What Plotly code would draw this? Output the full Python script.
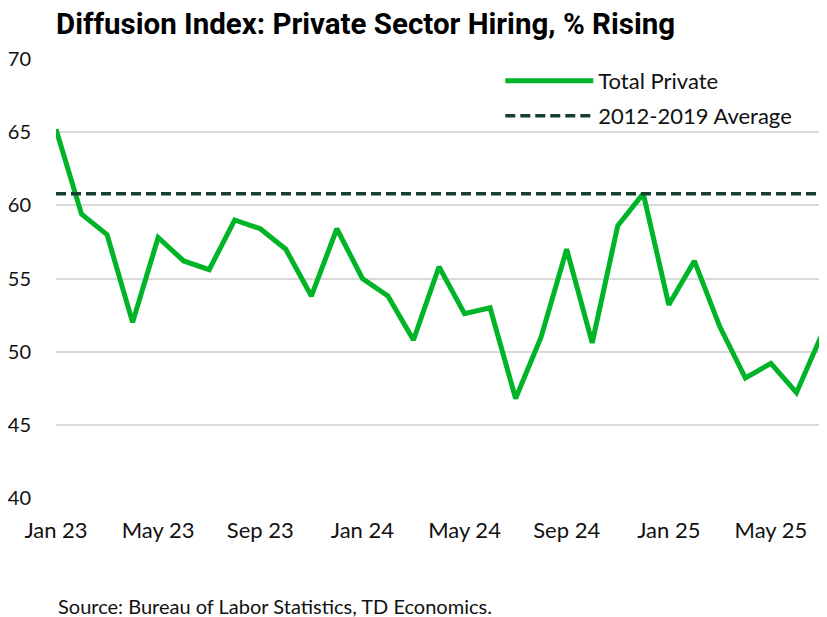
import plotly.graph_objects as go

months = ["Jan 23", "Feb 23", "Mar 23", "Apr 23", "May 23", "Jun 23", "Jul 23", "Aug 23",
          "Sep 23", "Oct 23", "Nov 23", "Dec 23", "Jan 24", "Feb 24", "Mar 24", "Apr 24",
          "May 24", "Jun 24", "Jul 24", "Aug 24", "Sep 24", "Oct 24", "Nov 24", "Dec 24",
          "Jan 25", "Feb 25", "Mar 25", "Apr 25", "May 25", "Jun 25", "Jul 25"]
total_private = [65.2, 59.4, 58.0, 52.0, 57.8, 56.2, 55.6, 59.0, 58.4, 57.0, 53.8, 58.4,
                 55.0, 53.8, 50.8, 55.8, 52.6, 53.0, 46.8, 51.0, 57.0, 50.6, 58.6, 60.8,
                 53.2, 56.2, 51.7, 48.2, 49.2, 47.2, 51.2]
avg_2012_2019 = 60.8
tick_labels = ["Jan 23", "May 23", "Sep 23", "Jan 24", "May 24", "Sep 24", "Jan 25", "May 25"]
y_ticks = [40, 45, 50, 55, 60, 65, 70]

GREEN = "#00B428"
DARK = "#17402A"
FONT = "Lato"

fig = go.Figure()
fig.add_trace(go.Scatter(
    x=months, y=total_private, mode="lines", name="Total Private",
    line=dict(color=GREEN, width=5, shape="linear"), legend="legend",
))
fig.add_trace(go.Scatter(
    x=months, y=[avg_2012_2019] * len(months), mode="lines", name="2012-2019 Average",
    line=dict(color=DARK, width=3.5, dash="10px,5px"), legend="legend2",
))

leg_common = dict(xanchor="left", yanchor="middle", bgcolor="rgba(0,0,0,0)",
                  font=dict(size=22, family=FONT, color="#111111"), itemwidth=88)

fig.update_layout(
    width=819, height=609,
    margin=dict(l=48, r=5, t=51, b=119, autoexpand=False),
    paper_bgcolor="white", plot_bgcolor="white",
    font=dict(family=FONT, size=22, color="#111111"),
    title=dict(text="<b>Diffusion Index: Private Sector Hiring, % Rising</b>",
               x=0.0, xref="paper", xanchor="left", y=0.974, yanchor="middle",
               font=dict(family="Roboto", size=29.5, color="#000000")),
    showlegend=True,
    legend=dict(x=0.58, y=0.95, **leg_common),
    legend2=dict(x=0.58, y=0.87, **leg_common),
    xaxis=dict(type="category", categoryorder="array", categoryarray=months,
               range=[0, len(months) - 1], tickvals=tick_labels, ticktext=tick_labels,
               showgrid=False, zeroline=False, showline=False,
               ticks="outside", ticklen=13, tickcolor="rgba(0,0,0,0)",
               tickfont=dict(size=22, family=FONT)),
    yaxis=dict(range=[40, 70], tickvals=y_ticks, showgrid=True, gridcolor="#D9D9D9",
               gridwidth=1.5, zeroline=False, showline=False,
               ticks="outside", ticklen=20, tickcolor="rgba(0,0,0,0)",
               tickfont=dict(size=20, family=FONT)),
    annotations=[dict(text="Source: Bureau of Labor Statistics, TD Economics.",
                      x=0, xref="paper", y=-0.245, yref="paper", xanchor="left",
                      yanchor="middle", showarrow=False,
                      font=dict(size=20, family=FONT, color="#111111"))],
)

fig.write_html("out.html")
